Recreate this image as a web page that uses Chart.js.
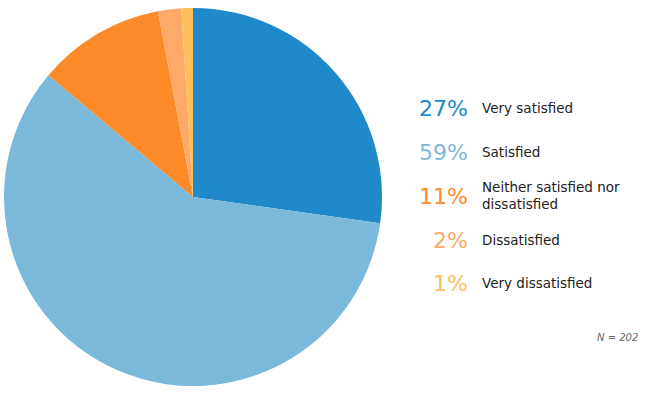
<!DOCTYPE html>
<html>
<head>
<meta charset="utf-8">
<script src="https://cdn.jsdelivr.net/npm/chart.js@4/dist/chart.umd.min.js"></script>
<style>
  body { margin: 0; background: #fff; font-family: "DejaVu Sans", Verdana, sans-serif; }
  #wrap { position: relative; width: 662px; height: 395px; }
  #pieBox { position: absolute; left: 0; top: 4px; width: 386px; height: 386px; }
  #legend { position: absolute; left: 400px; top: 0; }
  .row { position: absolute; display: flex; align-items: center; }
  .pct { width: 68px; text-align: right; font-size: 22px; }
  .lab { margin-left: 14px; font-size: 13.5px; color: #222; line-height: 17px; width: 175px; }
  #note { position: absolute; left: 597px; top: 332px; font-size: 10px; font-style: italic; color: #666; }
</style>
</head>
<body>
<div id="wrap">
  <div id="pieBox"><canvas id="pie"></canvas></div>
  <div id="legend"></div>
  <div id="note"></div>
</div>
<script>
const categories = ['Very satisfied', 'Satisfied', 'Neither satisfied nor dissatisfied', 'Dissatisfied', 'Very dissatisfied'];
const counts = [55, 119, 22, 4, 2];
const percents = ['27%', '59%', '11%', '2%', '1%'];
const colors = ['#2089c9', '#7bb9da', '#fd8a28', '#fdaa68', '#fdbf5c'];
const sampleSize = 202;

// legend rows, y centers
const rowY = [108, 152, 196, 240, 283];
const legend = document.getElementById('legend');
categories.forEach((c, i) => {
  const row = document.createElement('div');
  row.className = 'row';
  row.style.top = (rowY[i] - 15) + 'px';
  row.style.height = '30px';
  row.innerHTML = '<div class="pct" style="color:' + colors[i] + '">' + percents[i] + '</div>' +
    '<div class="lab">' + c + '</div>';
  legend.appendChild(row);
});
document.getElementById('note').textContent = 'N = ' + sampleSize;

new Chart(document.getElementById('pie'), {
  type: 'pie',
  data: {
    labels: categories,
    datasets: [{
      data: counts,
      backgroundColor: colors,
      borderWidth: 0
    }]
  },
  options: {
    responsive: true,
    maintainAspectRatio: false,
    animation: false,
    layout: { padding: 4 },
    plugins: {
      legend: { display: false },
      tooltip: { enabled: false }
    }
  }
});
</script>
</body>
</html>
